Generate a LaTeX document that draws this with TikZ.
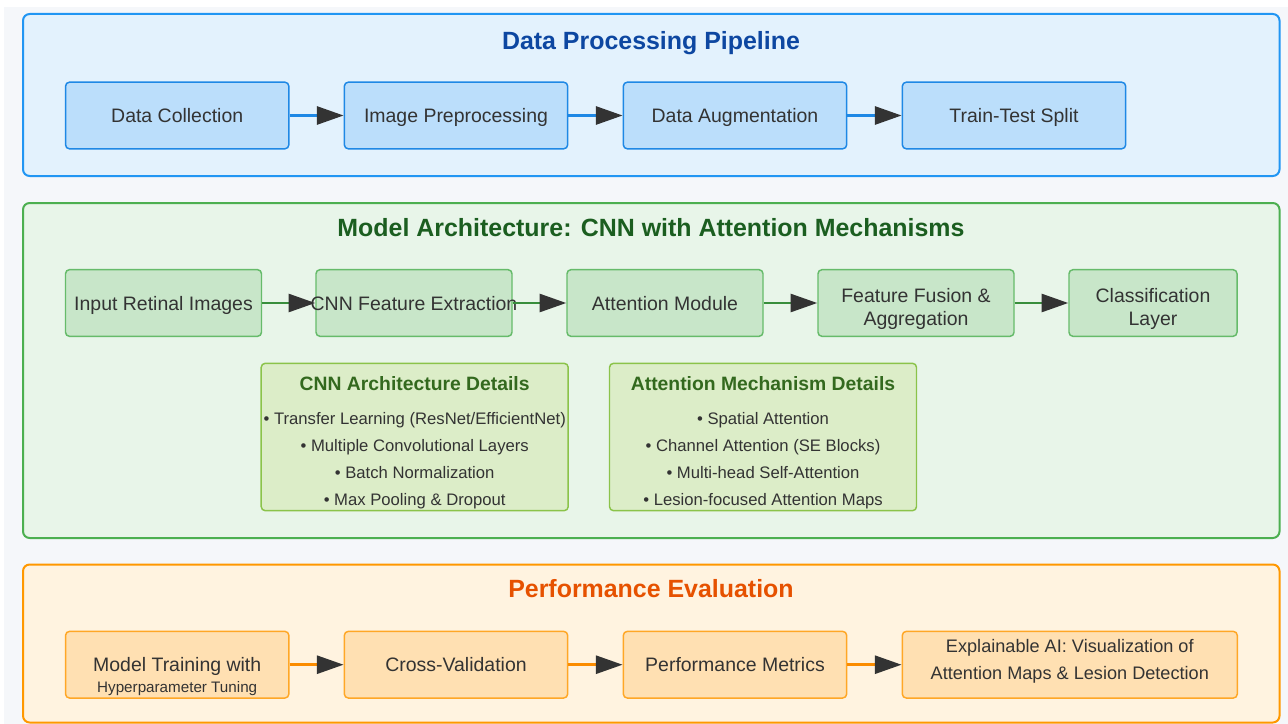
\documentclass[tikz,border=0pt]{standalone}
\usepackage{fontspec}
\setmainfont{Liberation Sans}
\usetikzlibrary{arrows.meta}

\definecolor{pagegray}{HTML}{F5F7FA}
\definecolor{txt}{HTML}{333333}
\definecolor{headcol}{HTML}{333333}
\definecolor{bluefill}{HTML}{E3F2FD}
\definecolor{blueline}{HTML}{2196F3}
\definecolor{bluebox}{HTML}{BBDEFB}
\definecolor{blueedge}{HTML}{1E88E5}
\definecolor{bluetitle}{HTML}{0D47A1}
\definecolor{greenfill}{HTML}{E8F5E9}
\definecolor{greenline}{HTML}{4CAF50}
\definecolor{greenbox}{HTML}{C8E6C9}
\definecolor{greenedge}{HTML}{66BB6A}
\definecolor{greenarrow}{HTML}{388E3C}
\definecolor{greentitle}{HTML}{1B5E20}
\definecolor{limebox}{HTML}{DCEDC8}
\definecolor{limeedge}{HTML}{8BC34A}
\definecolor{limetitle}{HTML}{33691E}
\definecolor{orangefill}{HTML}{FFF3E0}
\definecolor{orangeline}{HTML}{FF9800}
\definecolor{orangebox}{HTML}{FFE0B2}
\definecolor{orangeedge}{HTML}{FFA726}
\definecolor{orangearrow}{HTML}{FB8C00}
\definecolor{orangetitle}{HTML}{E65100}

\tikzset{
	panel/.style={rounded corners=5pt, line width=1.5pt},
	paneltitle/.style={inner sep=0pt, text height=13.4pt, text depth=0pt, font=\bfseries\fontsize{18.7}{22}\selectfont},
	stagebox/.style={rectangle, rounded corners=3pt, line width=1.1pt, minimum height=50pt, inner xsep=0pt, text height=10.5pt, text depth=0pt, text=txt, font=\fontsize{14.6}{17.25}\selectfont},
	bluestage/.style={stagebox, fill=bluebox, draw=blueedge, minimum width=167.5pt},
	greenstage/.style={stagebox, fill=greenbox, draw=greenedge, minimum width=147pt},
	orangestage/.style={stagebox, fill=orangebox, draw=orangeedge, minimum width=167.5pt},
	twoline/.style={align=center, inner sep=0pt, text=txt, font=\fontsize{14.6}{17.25}\selectfont},
	detailbox/.style={rectangle, rounded corners=3pt, line width=1.1pt, fill=limebox, draw=limeedge, minimum width=230.25pt, minimum height=110.5pt},
	detailtitle/.style={inner sep=0pt, text height=10.4pt, text depth=0pt, text=limetitle, font=\bfseries\fontsize{14.5}{17}\selectfont},
	bullet/.style={inner sep=0pt, text height=9pt, text depth=0pt, text=txt, font=\fontsize{12.5}{15}\selectfont},
	flow/.style={line width=2pt, -{Triangle[length=20pt,width=13.5pt,color=headcol]}},
}

\begin{document}
\begin{tikzpicture}[x=0.75pt, y=-0.75pt]
		\useasboundingbox (0,0) rectangle (1288,724);
		\fill [white] (0,0) rectangle (1288,724);
		\fill [pagegray] (4,7) rectangle (1288,724);
		
		\draw [panel, fill=bluefill, draw=blueline] (23,14) rectangle (1279.5,176);
		\draw [panel, fill=greenfill, draw=greenline] (23,203) rectangle (1279.5,538);
		\draw [panel, fill=orangefill, draw=orangeline] (23,564.5) rectangle (1279.5,722.5);
		
		\node (pipetitle) at (651,41) [paneltitle, text=bluetitle] {Data Processing Pipeline};
		\node (collect) at (177.2,115.5) [bluestage] {Data Collection};
		\node (prep) at (456,115.5) [bluestage] {Image Preprocessing};
		\node (augment) at (735,115.5) [bluestage] {Data Augmentation};
		\node (split) at (1014,115.5) [bluestage] {Train-Test Split};
		
		\draw [flow, draw=blueedge] (collect) -- (prep);
		\draw [flow, draw=blueedge] (prep) -- (augment);
		\draw [flow, draw=blueedge] (augment) -- (split);
		
		\node (modeltitle) at (651,228) [paneltitle, text=greentitle] {Model Architecture: CNN with Attention Mechanisms};
		\node (input) at (163.5,303) [greenstage] {Input Retinal Images};
		\node (cnn) at (414,303) [greenstage] {\makebox[0pt]{CNN Feature Extraction}};
		\node (attn) at (665,303) [greenstage] {Attention Module};
		\node (fusion) at (916,303) [greenstage] {};
		\node (fusiontext) at (916,308.5) [twoline] {Feature Fusion \&\\Aggregation};
		\node (classify) at (1153,303) [greenstage, minimum width=126pt] {};
		\node (classifytext) at (1153,308.5) [twoline] {Classification\\Layer};
		
		\draw [flow, draw=greenarrow] (input) -- (cnn);
		\draw [flow, draw=greenarrow] (cnn) -- (attn);
		\draw [flow, draw=greenarrow] (attn) -- (fusion);
		\draw [flow, draw=greenarrow] (fusion) -- (classify);
		
		\node (cnndetail) at (414.7,437) [detailbox] {};
		\node (cnnhead) at (414.7,384) [detailtitle] {CNN Architecture Details};
		\node (cnn1) at (414.7,418) [bullet] {• Transfer Learning (ResNet/EfficientNet)};
		\node (cnn2) at (414.7,445) [bullet] {• Multiple Convolutional Layers};
		\node (cnn3) at (414.7,472) [bullet] {• Batch Normalization};
		\node (cnn4) at (414.7,499) [bullet] {• Max Pooling \& Dropout};
		
		\node (attndetail) at (763,437) [detailbox] {};
		\node (attnhead) at (763,384) [detailtitle] {Attention Mechanism Details};
		\node (attn1) at (763,418) [bullet] {• Spatial Attention};
		\node (attn2) at (763,445) [bullet] {• Channel Attention (SE Blocks)};
		\node (attn3) at (763,472) [bullet] {• Multi-head Self-Attention};
		\node (attn4) at (763,499) [bullet] {• Lesion-focused Attention Maps};
		
		\node (evaltitle) at (651,589) [paneltitle, text=orangetitle] {Performance Evaluation};
		\node (train) at (177.2,664.7) [orangestage] {Model Training with};
		\node (tune) at (177.2,687) [inner sep=0pt, text height=8.2pt, text depth=0pt, text=txt, font=\fontsize{11.4}{13}\selectfont] {Hyperparameter Tuning};
		\node (crossval) at (456,664.7) [orangestage] {Cross-Validation};
		\node (metrics) at (735,664.7) [orangestage] {Performance Metrics};
		\node (xai) at (1069.8,664.7) [orangestage, minimum width=251.25pt] {};
		\node (xaitext) at (1069.8,661.3) [twoline, font=\fontsize{13.6}{20}\selectfont] {Explainable AI: Visualization of\\Attention Maps \& Lesion Detection};
		
		\draw [flow, draw=orangearrow] (train) -- (crossval);
		\draw [flow, draw=orangearrow] (crossval) -- (metrics);
		\draw [flow, draw=orangearrow] (metrics) -- (xai);
\end{tikzpicture}
\end{document}
